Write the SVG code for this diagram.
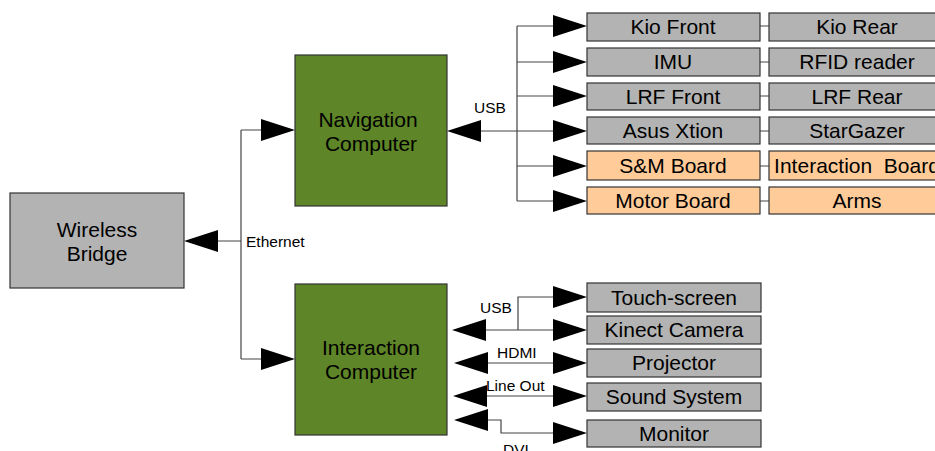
<svg xmlns="http://www.w3.org/2000/svg" xmlns:xlink="http://www.w3.org/1999/xlink" width="935" height="451" viewBox="0 0 935 451">
  <style>
    text { font-family: "Liberation Sans", Arial, sans-serif; fill: #000; }
    .lbl { font-size: 21px; text-anchor: middle; white-space: pre; }
    .sm { font-size: 15.5px; }
    .gray { fill: #b3b3b3; stroke: #333; stroke-width: 1.2; }
    .green { fill: #5e8527; stroke: #333; stroke-width: 1.2; }
    .orange { fill: #ffcc99; stroke: #333; stroke-width: 1.2; }
    .wire { fill: none; stroke: #444; stroke-width: 1.2; }
    .head { fill: #000; }
  </style>
  <defs>
    <!-- arrowhead with its tip at the origin, pointing right -->
    <path id="ah" class="head" d="M0,0 L-34,-11 L-34,11 Z"/>
  </defs>

  <!-- connectors -->
  <g id="connectors">
    <!-- Ethernet trunk -->
    <path class="wire" d="M218,241 H241 M241,130 V359 M241,130 H262 M241,359 H262"/>
    <use xlink:href="#ah" transform="translate(184,241) rotate(180)"/>
    <use xlink:href="#ah" transform="translate(295,130)"/>
    <use xlink:href="#ah" transform="translate(295,359)"/>

    <!-- navigation USB bus -->
    <path class="wire" d="M480,131 H517 M517,26 V201 M517,26 H553 M517,62 H553 M517,96 H553 M517,131 H553 M517,166 H553 M517,201 H553"/>
    <use xlink:href="#ah" transform="translate(447,131) rotate(180)"/>
    <use xlink:href="#ah" transform="translate(587,26)"/>
    <use xlink:href="#ah" transform="translate(587,62)"/>
    <use xlink:href="#ah" transform="translate(587,96)"/>
    <use xlink:href="#ah" transform="translate(587,131)"/>
    <use xlink:href="#ah" transform="translate(587,166)"/>
    <use xlink:href="#ah" transform="translate(587,201)"/>

    <!-- links between device columns -->
    <path class="wire" d="M760,26 H769 M760,62 H769 M760,96 H769 M760,131 H769 M760,166 H769 M760,201 H769"/>

    <!-- interaction computer links -->
    <path class="wire" d="M486,330 H553 M518,330 V297 H553"/>
    <use xlink:href="#ah" transform="translate(452,330) rotate(180)"/>
    <use xlink:href="#ah" transform="translate(587,297)"/>
    <use xlink:href="#ah" transform="translate(587,330)"/>

    <path class="wire" d="M488,363 H553"/>
    <use xlink:href="#ah" transform="translate(454,363) rotate(180)"/>
    <use xlink:href="#ah" transform="translate(587,363)"/>

    <path class="wire" d="M487,396 H553"/>
    <use xlink:href="#ah" transform="translate(453,396) rotate(180)"/>
    <use xlink:href="#ah" transform="translate(587,396)"/>

    <path class="wire" d="M487,420 H501 V433 H553"/>
    <use xlink:href="#ah" transform="translate(454,420) rotate(180)"/>
    <use xlink:href="#ah" transform="translate(587,433)"/>

    <!-- connector labels -->
    <text class="sm" x="246" y="247">Ethernet</text>
    <text class="sm" x="474" y="113">USB</text>
    <text class="sm" x="480" y="313">USB</text>
    <text class="sm" x="497" y="358">HDMI</text>
    <text class="sm" x="486" y="391">Line Out</text>
    <text class="sm" x="503" y="455">DVI</text>
  </g>

  <!-- main units -->
  <g id="wireless-bridge">
    <rect class="gray" x="10" y="193" width="174" height="95"/>
    <text class="lbl" x="97" y="237">Wireless</text>
    <text class="lbl" x="97" y="261">Bridge</text>
  </g>
  <g id="navigation-computer">
    <rect class="green" x="295" y="55" width="152" height="151"/>
    <text class="lbl" x="368" y="127">Navigation</text>
    <text class="lbl" x="371" y="151">Computer</text>
  </g>
  <g id="interaction-computer">
    <rect class="green" x="295" y="284" width="152" height="151"/>
    <text class="lbl" x="371" y="355">Interaction</text>
    <text class="lbl" x="371" y="379">Computer</text>
  </g>

  <!-- navigation peripherals, left column -->
  <g id="kio-front"><rect class="gray" x="587" y="13" width="173" height="28"/><text class="lbl" x="673" y="34">Kio Front</text></g>
  <g id="imu"><rect class="gray" x="587" y="48" width="173" height="28"/><text class="lbl" x="673" y="69">IMU</text></g>
  <g id="lrf-front"><rect class="gray" x="587" y="83" width="173" height="27"/><text class="lbl" x="673" y="104">LRF Front</text></g>
  <g id="asus-xtion"><rect class="gray" x="587" y="117" width="173" height="27"/><text class="lbl" x="673" y="138">Asus Xtion</text></g>
  <g id="sm-board"><rect class="orange" x="587" y="151" width="173" height="29"/><text class="lbl" x="673" y="173">S&amp;M Board</text></g>
  <g id="motor-board"><rect class="orange" x="587" y="187" width="173" height="27"/><text class="lbl" x="673" y="208">Motor Board</text></g>

  <!-- navigation peripherals, right column -->
  <g id="kio-rear"><rect class="gray" x="769" y="13" width="180" height="28"/><text class="lbl" x="857" y="34">Kio Rear</text></g>
  <g id="rfid-reader"><rect class="gray" x="769" y="48" width="180" height="28"/><text class="lbl" x="857" y="69">RFID reader</text></g>
  <g id="lrf-rear"><rect class="gray" x="769" y="83" width="180" height="27"/><text class="lbl" x="857" y="104">LRF Rear</text></g>
  <g id="stargazer"><rect class="gray" x="769" y="117" width="180" height="27"/><text class="lbl" x="857" y="138">StarGazer</text></g>
  <g id="interaction-board"><rect class="orange" x="769" y="151" width="180" height="29"/><text class="lbl" x="857" y="173">Interaction  Board</text></g>
  <g id="arms"><rect class="orange" x="769" y="187" width="180" height="27"/><text class="lbl" x="857" y="208">Arms</text></g>

  <!-- interaction peripherals -->
  <g id="touch-screen"><rect class="gray" x="587" y="283" width="174" height="29"/><text class="lbl" x="674" y="305">Touch-screen</text></g>
  <g id="kinect-camera"><rect class="gray" x="587" y="316" width="174" height="28"/><text class="lbl" x="674" y="337">Kinect Camera</text></g>
  <g id="projector"><rect class="gray" x="587" y="349" width="174" height="28"/><text class="lbl" x="674" y="370">Projector</text></g>
  <g id="sound-system"><rect class="gray" x="587" y="383" width="174" height="28"/><text class="lbl" x="674" y="404">Sound System</text></g>
  <g id="monitor"><rect class="gray" x="587" y="420" width="174" height="27"/><text class="lbl" x="674" y="441">Monitor</text></g>
</svg>
